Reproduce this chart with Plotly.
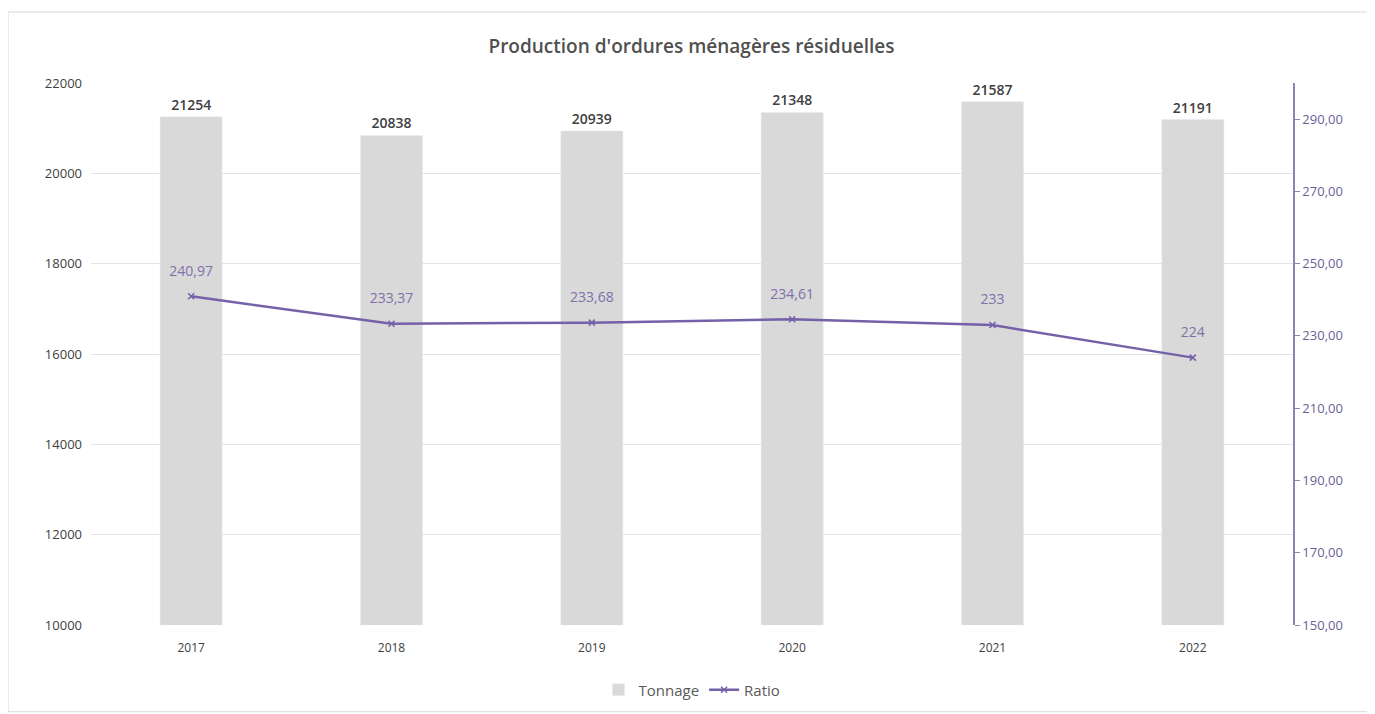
import plotly.graph_objects as go

years = ["2017", "2018", "2019", "2020", "2021", "2022"]
tonnage = [21254, 20838, 20939, 21348, 21587, 21191]
ratio = [240.97, 233.37, 233.68, 234.61, 233, 224]
ratio_labels = ["240,97", "233,37", "233,68", "234,61", "233", "224"]
left_ticks = [10000, 12000, 14000, 16000, 18000, 20000, 22000]
right_ticks = [150, 170, 190, 210, 230, 250, 270, 290]
right_tick_labels = ["150,00", "170,00", "190,00", "210,00", "230,00", "250,00", "270,00", "290,00"]

FONT = "Open Sans, Liberation Sans, sans-serif"
purple = "#7461a8"

fig = go.Figure()
fig.add_trace(go.Bar(
    x=years, y=tonnage, name="Tonnage",
    marker=dict(color="#d9d9d9"), width=0.31,
    text=[str(v) for v in tonnage], textposition="outside",
    textfont=dict(color="#404040", size=14, family=FONT, weight=600),
    cliponaxis=False,
))
fig.add_trace(go.Scatter(
    x=years, y=ratio, name="Ratio", yaxis="y2",
    mode="lines+markers",
    line=dict(color=purple, width=2.5),
    marker=dict(symbol="x-thin", size=6, color=purple, line=dict(color=purple, width=1.5)),
))
fig.add_trace(go.Scatter(
    x=years, y=ratio, yaxis="y2", showlegend=False, hoverinfo="skip",
    mode="markers+text",
    marker=dict(size=26, opacity=0),
    text=ratio_labels, textposition="top center",
    textfont=dict(color="#7f70aa", size=14, family=FONT),
))

fig.update_layout(
    width=1367, height=706,
    paper_bgcolor="white", plot_bgcolor="white",
    margin=dict(l=83, r=82, t=75, b=89),
    title=dict(text="Production d'ordures ménagères résiduelles", x=0.5, xanchor="center",
               y=0.946, yanchor="middle",
               font=dict(size=19, color="#505050", family=FONT, weight=600)),
    font=dict(family=FONT, color="#595959"),
    xaxis=dict(showgrid=False, showline=False, ticks="", ticklabelstandoff=14,
               tickfont=dict(size=12, color="#404040")),
    yaxis=dict(range=[10000, 22000], tickvals=left_ticks, ticktext=[str(v) for v in left_ticks],
               showgrid=True, gridcolor="#e3e3e3", gridwidth=1.2, zeroline=False,
               showline=False, tickfont=dict(size=13, color="#404040"), ticklabelstandoff=8),
    yaxis2=dict(range=[150, 300], overlaying="y", side="right", tickvals=right_ticks,
                ticktext=right_tick_labels, showgrid=False, zeroline=False,
                showline=True, linecolor="#8d84b3", linewidth=1.5,
                ticks="outside", ticklen=5, tickcolor="#8d84b3",
                tickfont=dict(size=13, color="#6a5f95")),
    legend=dict(orientation="h", x=0.5, xanchor="center", yref="container", y=0.034, yanchor="middle",
                font=dict(size=15, color="#595959"), traceorder="normal"),
    shapes=[dict(type="rect", xref="paper", yref="paper", x0=-0.069, x1=1.064, y0=-0.16, y1=1.131,
                 line=dict(color="#d9d9d9", width=1))],
)

fig.write_html("out.html")
